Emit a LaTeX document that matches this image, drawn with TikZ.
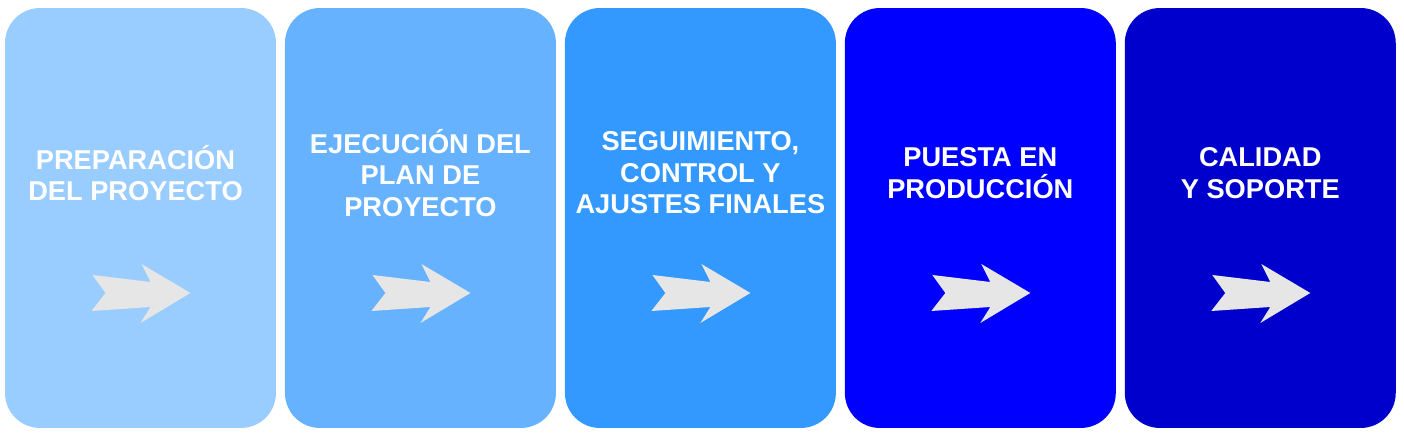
\documentclass[tikz,border=0pt]{standalone}
\usepackage{fontspec}
\setmainfont{Liberation Sans}
\usepackage{tikz}
\usetikzlibrary{calc,positioning}
\definecolor{stageA}{HTML}{99CCFF}
\definecolor{stageB}{HTML}{66B2FF}
\definecolor{stageC}{HTML}{3399FF}
\definecolor{stageD}{HTML}{0000FF}
\definecolor{stageE}{HTML}{0000CC}
\definecolor{arrowgray}{HTML}{E6E6E6}

\begin{document}
\begin{tikzpicture}[
    x=0.02cm, y=-0.02cm,
    stage/.style={rounded corners=0.7cm, minimum width=5.42cm, minimum height=8.4cm,
        inner sep=0pt, outer sep=0pt},
    title/.style={text=white, align=center,
        font=\bfseries\fontsize{15.5}{18}\selectfont},
    fatarrow/.pic={\fill [arrowgray] (-48,-18) -- (-35,0) -- (-49,18) -- (10,14)
        -- (0,30) -- (50,0) -- (1,-29) -- (10,-11) -- cycle;},
    node distance=0.18cm,
]

    \useasboundingbox (0,0) rectangle (1404,438);
    \def\up{-45}
    \def\down{75}

    \node [stage, fill=stageA] (prep) at (140.5,218) {};
    \node [stage, fill=stageB, right=of prep] (ejec) {};
    \node [stage, fill=stageC, right=of ejec] (segui) {};
    \node [stage, fill=stageD, right=of segui] (puesta) {};
    \node [stage, fill=stageE, right=of puesta] (calidad) {};

    \node [title] (prep text) at ($(prep.center)+(-5,\up)$) {PREPARACIÓN\\DEL PROYECTO};
    \node [title] (ejec text) at ($(ejec.center)+(0,\up)$) {EJECUCIÓN DEL\\PLAN DE\\PROYECTO};
    \node [title] (segui text) at ($(segui.center)+(0,\up)$) {SEGUIMIENTO,\\CONTROL Y\\AJUSTES FINALES};
    \node [title] (puesta text) at ($(puesta.center)+(0,\up)$) {PUESTA EN\\PRODUCCIÓN};
    \node [title] (calidad text) at ($(calidad.center)+(0,\up)$) {CALIDAD\\Y SOPORTE};

    \pic at ($(prep.center)+(0,\down)$) {fatarrow};
    \pic at ($(ejec.center)+(0,\down)$) {fatarrow};
    \pic at ($(segui.center)+(0,\down)$) {fatarrow};
    \pic at ($(puesta.center)+(0,\down)$) {fatarrow};
    \pic at ($(calidad.center)+(0,\down)$) {fatarrow};
\end{tikzpicture}
\end{document}
